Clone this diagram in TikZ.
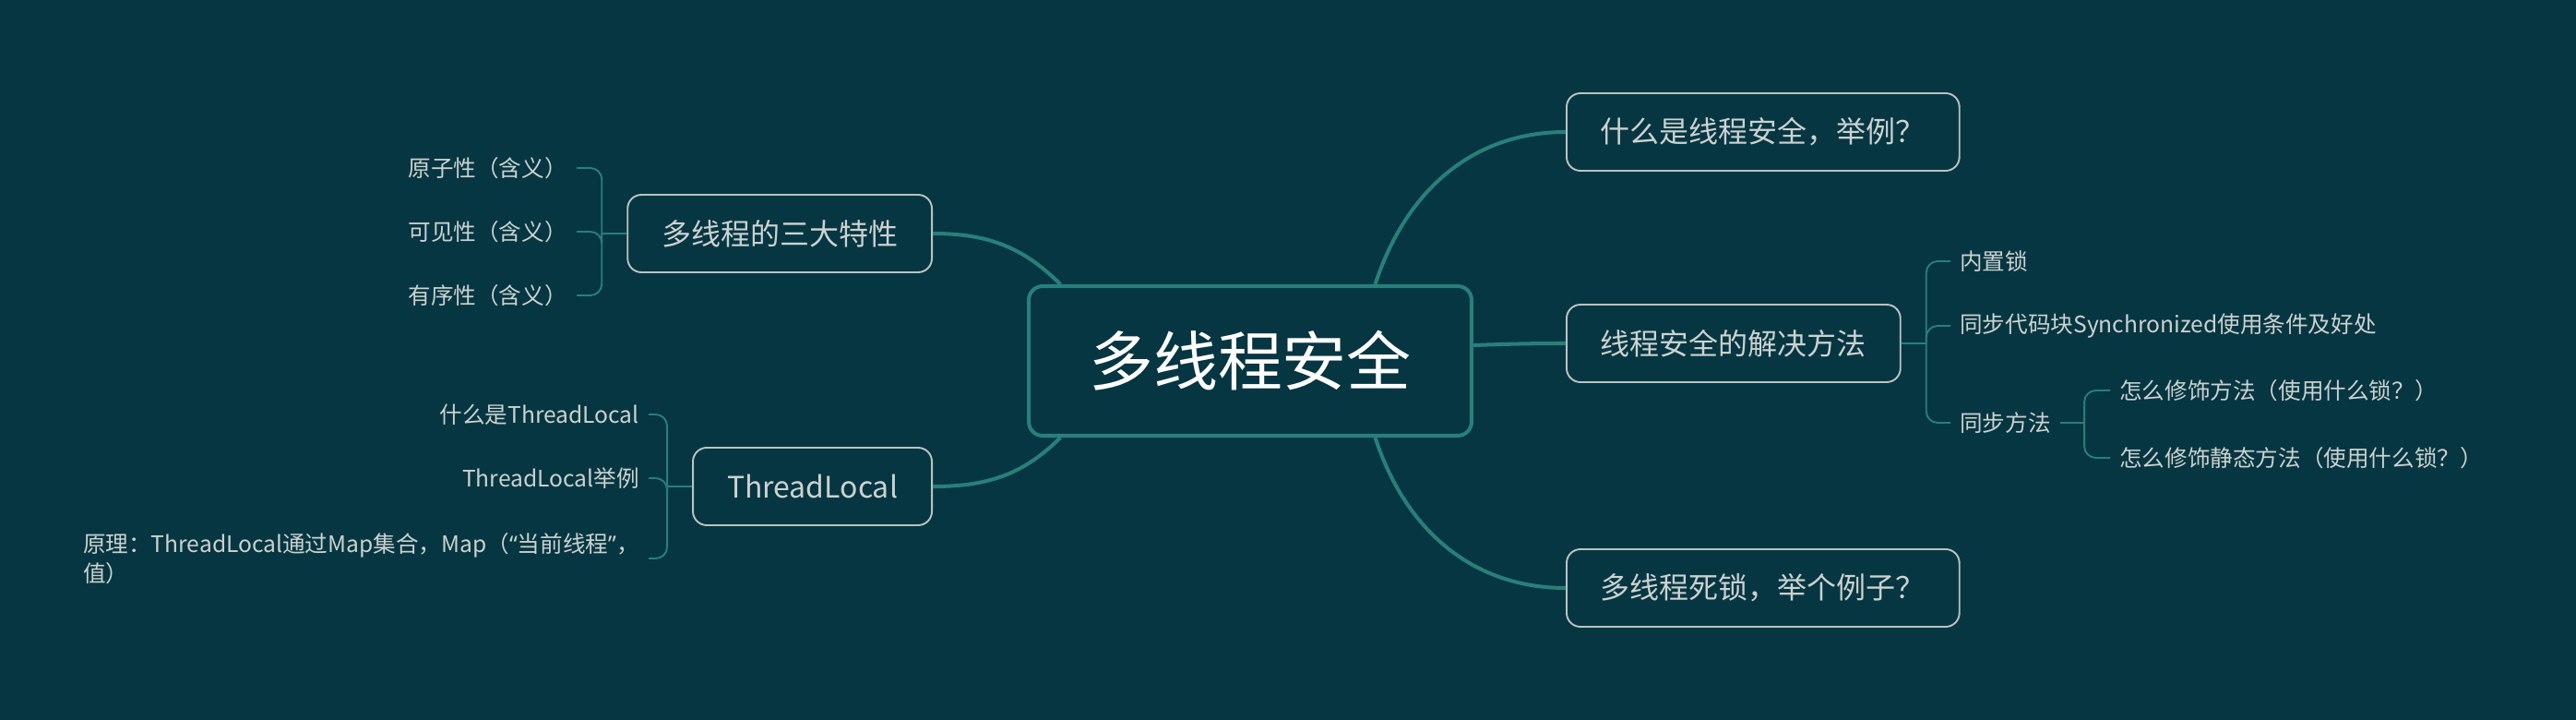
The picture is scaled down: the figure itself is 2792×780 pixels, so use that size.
\documentclass[tikz,border=0pt]{standalone}
\usepackage{fontspec}
\setmainfont{Noto Sans CJK SC}
\newfontfamily\quotefont{Noto Sans}
\usetikzlibrary{calc}
\definecolor{bgteal}{RGB}{6,54,65}
\definecolor{branchteal}{RGB}{40,127,122}
\definecolor{boxgray}{RGB}{185,195,194}
\definecolor{textgray}{RGB}{204,210,209}

\begin{document}
\begin{tikzpicture}[
    x=0.02cm, y=0.02cm,
    root/.style={rectangle, draw=branchteal, line width=2.3pt, rounded corners=0.3cm, fill=bgteal, minimum width=9.6cm, minimum height=3.24cm, text=white, font=\fontsize{39.8}{48}\selectfont},
    topic/.style={rectangle, draw=boxgray, line width=1.1pt, rounded corners=0.3cm, minimum height=1.68cm, inner xsep=0.74cm, text=textgray, font=\fontsize{18.2}{22}\selectfont},
    leaf/.style={inner xsep=0.2cm, inner ysep=0.1cm, text=textgray, font=\fontsize{14}{18.2}\selectfont},
    branch/.style={draw=branchteal, line width=2.3pt},
    twig/.style={draw=branchteal, line width=1.1pt, rounded corners=0.25cm}
]
    % Background
    \fill[bgteal] (0,0) rectangle (2792,-780);
    \useasboundingbox (0,0) rectangle (2792,-780);

    % Root
    \node[root] (root) at (1355,-391) {多线程安全};

    % Right topics
    \node[topic, anchor=west] (t1) at (1697,-143) {什么是线程安全，举例？};
    \node[topic, anchor=west] (t2) at (1697,-372) {线程安全的解决方法};
    \node[topic, anchor=west] (t3) at (1697,-637) {多线程死锁，举个例子？};

    % Left topics
    \node[topic, anchor=east] (l1) at (1011,-253) {多线程的三大特性};
    \node[topic, anchor=east] (l2) at (1011,-527) {ThreadLocal};

    % Branches from the root
    \draw[branch] ($(root.north)!0.56!(root.north east)$) to[out=72, in=180] (t1.west);
    \draw[branch] ($(root.east)+(0,17)$) to[out=2, in=180] (t2.west);
    \draw[branch] ($(root.south)!0.56!(root.south east)$) to[out=-72, in=180] (t3.west);
    \draw[branch] ($(root.north)!0.85!(root.north west)$) to[out=135, in=0] (l1.east);
    \draw[branch] ($(root.south)!0.85!(root.south west)$) to[out=-135, in=0] (l2.east);

    % Leaves of t2
    \node[leaf, anchor=west] (r1) at (2114,-283) {内置锁};
    \node[leaf, anchor=west] (r2) at (2114,-353) {同步代码块Synchronized使用条件及好处};
    \node[leaf, anchor=west] (r3) at (2114,-458) {同步方法};
    \node[leaf, anchor=west] (s1) at (2287,-423) {怎么修饰方法（使用什么锁？）};
    \node[leaf, anchor=west] (s2) at (2287,-496) {怎么修饰静态方法（使用什么锁？）};

    \draw[twig] (t2.east) -- ++(27,0) coordinate (t2j);
    \draw[twig] (t2j) |- (r1.west);
    \draw[twig] (t2j) |- (r2.west);
    \draw[twig] (t2j) |- (r3.west);
    \draw[twig] (r3.east) -- ++(26,0) coordinate (r3j);
    \draw[twig] (r3j) |- (s1.west);
    \draw[twig] (r3j) |- (s2.west);

    % Leaves of l1
    \node[leaf, anchor=east] (p1) at (625,-182) {原子性（含义）};
    \node[leaf, anchor=east] (p2) at (625,-251) {可见性（含义）};
    \node[leaf, anchor=east] (p3) at (625,-320) {有序性（含义）};

    \draw[twig] (l1.west) -- ++(-27,0) coordinate (l1j);
    \draw[twig] (l1j) |- (p1.east);
    \draw[twig] (l1j) |- (p2.east);
    \draw[twig] (l1j) |- (p3.east);

    % Leaves of l2
    \node[leaf, anchor=east] (q1) at (703,-449) {什么是ThreadLocal};
    \node[leaf, anchor=east] (q2) at (703,-518) {ThreadLocal举例};
    \node[leaf, anchor=east, align=left] (q3) at (703,-605) {原理：ThreadLocal通过Map集合，Map（{\quotefont “}当前线程{\quotefont ”}，\\值）};

    \draw[twig] (l2.west) -- ++(-27,0) coordinate (l2j);
    \draw[twig] (l2j) |- (q1.east);
    \draw[twig] (l2j) |- (q2.east);
    \draw[twig] (l2j) |- (q3.east);
\end{tikzpicture}
\end{document}
